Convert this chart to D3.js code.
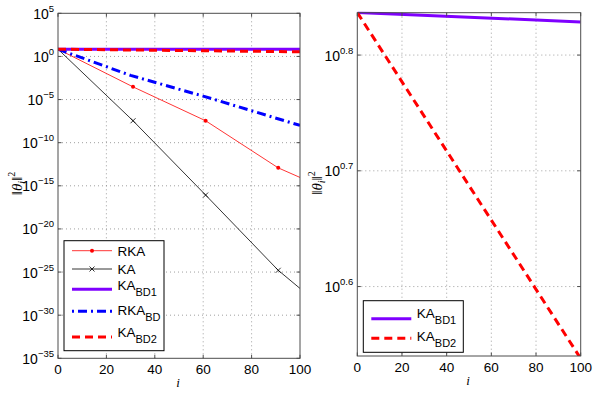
<!DOCTYPE html>
<html>
<head>
<meta charset="utf-8">
<script src="https://cdn.jsdelivr.net/npm/d3@7"></script>
<style>
    body { margin: 0; background: #fff; }
    svg { display: block; }
</style>
</head>
<body>
<div id="container"></div>
<script>
const width = 595, height = 396;

// ---- data ----
const xTicks = [0, 20, 40, 60, 80, 100];
const leftYExps = [5, 0, -5, -10, -15, -20, -25, -30, -35];
const rightYExps = [0.6, 0.7, 0.8];

const rkaIters = [0, 31, 61, 91, 100];
const rkaValues = [6.86, 2.95e-4, 3.47e-8, 1.2e-13, 9.3e-15];
const rkaMarkers = [31, 61, 91];

const kaIters = [0, 31, 61, 91, 100];
const kaValues = [6.86, 3.47e-8, 8.5e-17, 1.6e-25, 1.26e-27];
const kaMarkers = [31, 61, 91];

const kaBd1Iters = [0, 100];
const kaBd1Values = [6.866, 6.74];

const rkaBdIters = [0, 30, 60, 100];
const rkaBdValues = [6.866, 6.3e-3, 2.5e-5, 1e-8];

const kaBd2Iters = [0, 100];
const kaBd2Values = [6.866, 3.45];

// ---- styles ----
const styles = {
    RKA:    {color: "#ff0000", width: 0.8, dash: null, marker: "dot"},
    KA:     {color: "#000000", width: 0.8, dash: null, marker: "x"},
    KA_BD1: {color: "#7f00ff", width: 3, dash: null},
    RKA_BD: {color: "#0000ff", width: 3, dash: "9,4,2,4", legendOffset: 13},
    KA_BD2: {color: "#ff0000", width: 3, dash: "8,5"}
};

function series(key, iters, values, markers, main, sub) {
    return {key, main, sub, markers: markers || [],
        points: iters.map((it, i) => ({i: it, v: values[i]}))};
}

const allSeries = [
    series("RKA", rkaIters, rkaValues, rkaMarkers, "RKA", ""),
    series("KA", kaIters, kaValues, kaMarkers, "KA", ""),
    series("KA_BD1", kaBd1Iters, kaBd1Values, null, "KA", "BD1"),
    series("RKA_BD", rkaBdIters, rkaBdValues, null, "RKA", "BD"),
    series("KA_BD2", kaBd2Iters, kaBd2Values, null, "KA", "BD2")
];

const panels = [
    {
        box: {left: 58, right: 300, top: 13.3, bottom: 358.3},
        yDomain: [1e-35, 1e5],
        yExps: leftYExps,
        keys: ["RKA", "KA", "KA_BD1", "RKA_BD", "KA_BD2"],
        legend: {x: 64, y: 240.7, w: 100, h: 110,
            rows: [250.7, 269, 289.3, 311.3, 337],
            base: [256, 273.8, 290, 314.5, 336.7]},
        ylabel: {x: 16.5, y: 183.5},
        xlabel: {x: 178, y: 387}
    },
    {
        box: {left: 357.3, right: 580.7, top: 12.7, bottom: 356},
        yDomain: [Math.pow(10, 0.54), Math.pow(10, 0.8366)],
        yExps: rightYExps,
        keys: ["KA_BD1", "KA_BD2"],
        legend: {x: 363.3, y: 300.7, w: 100, h: 51.6,
            rows: [318.7, 338.3],
            base: [317.7, 341]},
        ylabel: {x: 316.5, y: 183},
        xlabel: {x: 468, y: 385}
    }
];

const svg = d3.select("#container").append("svg")
    .attr("width", width)
    .attr("height", height)
    .attr("font-family", "'Liberation Sans', Arial, sans-serif");

panels.forEach((p, pi) => drawPanel(p, pi));

function drawPanel(p, pi) {
    const b = p.box;
    const x = d3.scaleLinear().domain([0, 100]).range([b.left, b.right]);
    const y = d3.scaleLog().domain(p.yDomain).range([b.bottom, b.top]);
    const yTickVals = p.yExps.map(e => Math.pow(10, e));
    const g = svg.append("g");

    // grid
    g.append("g").selectAll("line")
        .data(xTicks.slice(1, -1))
        .join("line")
        .attr("x1", d => x(d)).attr("x2", d => x(d))
        .attr("y1", b.top).attr("y2", b.bottom)
        .attr("stroke", "#888").attr("stroke-width", 0.8)
        .attr("stroke-dasharray", "1,3");
    g.append("g").selectAll("line")
        .data(yTickVals.filter(v => y(v) > b.top + 1 && y(v) < b.bottom - 1))
        .join("line")
        .attr("x1", b.left).attr("x2", b.right)
        .attr("y1", d => y(d)).attr("y2", d => y(d))
        .attr("stroke", "#888").attr("stroke-width", 0.8)
        .attr("stroke-dasharray", "1,3");

    // clip
    const clipId = "clip" + pi;
    svg.append("clipPath").attr("id", clipId)
        .append("rect")
        .attr("x", b.left).attr("y", b.top - 1)
        .attr("width", b.right - b.left).attr("height", b.bottom - b.top + 1);

    const plot = g.append("g").attr("clip-path", `url(#${clipId})`);
    const line = d3.line().x(d => x(d.i)).y(d => y(d.v));

    for (let key of p.keys) {
        const s = allSeries.find(d => d.key === key);
        const st = styles[key];
        plot.append("path")
            .attr("d", line(s.points))
            .attr("fill", "none")
            .attr("stroke", st.color)
            .attr("stroke-width", st.width)
            .attr("stroke-dasharray", st.dash);
        const mk = s.points.filter(d => s.markers.includes(d.i));
        drawMarkers(plot, mk.map(d => [x(d.i), y(d.v)]), st);
    }

    // box + ticks (inward, all sides)
    g.append("rect")
        .attr("x", b.left).attr("y", b.top)
        .attr("width", b.right - b.left).attr("height", b.bottom - b.top)
        .attr("fill", "none").attr("stroke", "#4d4d4d").attr("stroke-width", 1);
    const tl = 3.5;
    xTicks.forEach(t => {
        g.append("line").attr("x1", x(t)).attr("x2", x(t))
            .attr("y1", b.bottom).attr("y2", b.bottom - tl)
            .attr("stroke", "#4d4d4d");
        g.append("line").attr("x1", x(t)).attr("x2", x(t))
            .attr("y1", b.top).attr("y2", b.top + tl)
            .attr("stroke", "#4d4d4d");
    });
    yTickVals.forEach(v => {
        g.append("line").attr("x1", b.left).attr("x2", b.left + tl)
            .attr("y1", y(v)).attr("y2", y(v)).attr("stroke", "#4d4d4d");
        g.append("line").attr("x1", b.right).attr("x2", b.right - tl)
            .attr("y1", y(v)).attr("y2", y(v)).attr("stroke", "#4d4d4d");
    });

    // x tick labels
    g.append("g").selectAll("text")
        .data(xTicks)
        .join("text")
        .attr("x", d => x(d))
        .attr("y", b.bottom + 16)
        .attr("text-anchor", "middle")
        .attr("font-size", 13.5)
        .text(d => d);

    // y tick labels: 10^e
    p.yExps.forEach(e => {
        const t = g.append("text")
            .attr("x", b.left - 4)
            .attr("y", y(Math.pow(10, e)) + 5.5)
            .attr("text-anchor", "end")
            .attr("font-size", 14);
        t.append("tspan").text("10");
        t.append("tspan")
            .attr("font-size", 9.5)
            .attr("dy", -7)
            .text(String(e).replace("-", "\u2212"));
    });

    // axis labels
    g.append("text")
        .attr("x", p.xlabel.x).attr("y", p.xlabel.y)
        .attr("text-anchor", "middle")
        .attr("font-family", "'Liberation Serif', serif")
        .attr("font-style", "italic")
        .attr("font-size", 13)
        .text("i");

    const yl = g.append("text")
        .attr("transform", `translate(${p.ylabel.x + 5},${p.ylabel.y}) rotate(-90)`)
        .attr("text-anchor", "middle")
        .attr("font-family", "'Liberation Serif', serif")
        .attr("font-size", 15);
    yl.append("tspan").text("\u2016");
    yl.append("tspan").attr("font-style", "italic").text("\u03b8");
    yl.append("tspan").attr("font-style", "italic").attr("font-size", 10).attr("dy", 3).text("i");
    yl.append("tspan").attr("dy", -3).text("\u2016");
    yl.append("tspan").attr("font-size", 10).attr("dy", -7).text("2");

    // legend
    const L = p.legend;
    g.append("rect")
        .attr("x", L.x).attr("y", L.y).attr("width", L.w).attr("height", L.h)
        .attr("fill", "#fff").attr("stroke", "#000").attr("stroke-width", 1);
    p.keys.forEach((key, k) => {
        const s = allSeries.find(d => d.key === key);
        const st = styles[key];
        const ly = L.rows[k];
        g.append("line")
            .attr("x1", L.x + 8).attr("x2", L.x + 48)
            .attr("y1", ly).attr("y2", ly)
            .attr("stroke", st.color)
            .attr("stroke-width", st.width)
            .attr("stroke-dasharray", st.dash)
            .attr("stroke-dashoffset", st.legendOffset || 0);
        drawMarkers(g, [[L.x + 28, ly]], st);
        const t = g.append("text")
            .attr("x", L.x + 53.5)
            .attr("y", L.base[k])
            .attr("font-size", 13.5);
        t.append("tspan").text(s.main);
        if (s.sub) {
            t.append("tspan").attr("font-size", 11).attr("dy", 6).text(s.sub);
        }
    });
}

function drawMarkers(g, pts, st) {
    if (!st.marker) return;
    for (let [px, py] of pts) {
        if (st.marker === "dot") {
            g.append("circle").attr("cx", px).attr("cy", py).attr("r", 2)
                .attr("fill", st.color);
        } else {
            const r = 2.5;
            g.append("path")
                .attr("d", `M${px - r},${py - r}L${px + r},${py + r}M${px - r},${py + r}L${px + r},${py - r}`)
                .attr("stroke", st.color).attr("stroke-width", 0.8);
        }
    }
}
</script>
</body>
</html>
